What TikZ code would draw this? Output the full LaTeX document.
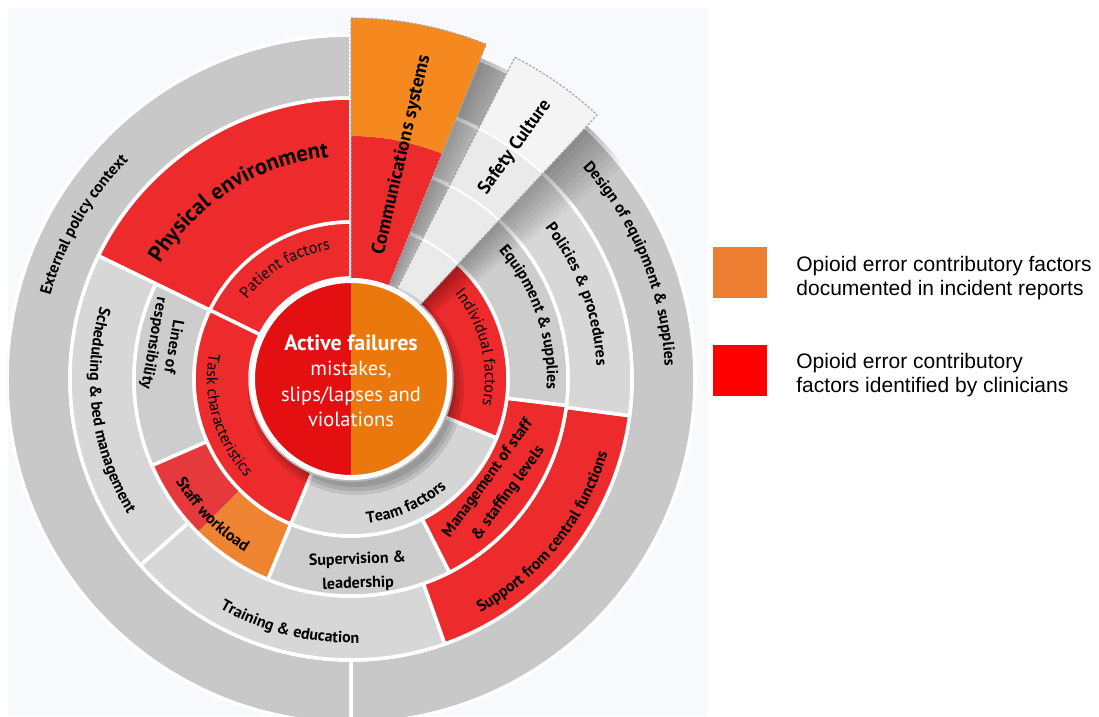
\documentclass[tikz,border=0pt]{standalone}
\usepackage{fontspec}
\setsansfont{PT Sans}
\newfontfamily\legendfont{Liberation Sans}
\usetikzlibrary{decorations.text,positioning}

\definecolor{paper}{HTML}{F8F9FC}
\definecolor{ringfive}{HTML}{C8C8C8}
\definecolor{ringfour}{HTML}{D7D7D7}
\definecolor{ringthree}{HTML}{CDCDCD}
\definecolor{ringtwo}{HTML}{D5D5D5}
\definecolor{segred}{HTML}{EE2B2C}
\definecolor{workred}{HTML}{E5393B}
\definecolor{workorange}{HTML}{EE8432}
\definecolor{commorange}{HTML}{F5891F}
\definecolor{corered}{HTML}{E30F10}
\definecolor{coreorange}{HTML}{EB780C}
\definecolor{safetygray}{HTML}{EAEAEA}
\definecolor{safetytop}{HTML}{F4F4F4}
\definecolor{keyorange}{HTML}{ED7D31}
\definecolor{keyred}{HTML}{FF0000}

\newcommand{\labfont}{\sffamily\bfseries\fontsize{16}{18}\selectfont}
\newcommand{\thinfont}{\sffamily\fontsize{16}{18}\selectfont}
\newcommand{\bigfont}{\sffamily\bfseries\fontsize{22.5}{24}\selectfont}

\begin{document}
\begin{tikzpicture}[x=1pt, y=1pt,
    seg/.style={draw=white, line width=3.5pt, line join=round},
    rlab/.style={align=center, inner sep=0pt},
    dashedge/.style={draw=gray!70, dash pattern=on 2.5pt off 1.5pt, line width=1.1pt},
    keybox/.style={minimum width=54pt, minimum height=51pt, inner sep=0pt},
    keytext/.style={font=\legendfont\fontsize{21}{24}\selectfont, align=left, inner sep=0pt}]
    \newcommand{\Sector}[5]{\path[#1] (#2:#4) arc[start angle=#2, end angle=#3, radius=#4] -- (#3:#5) arc[start angle=#3, end angle=#2, radius=#5] -- cycle;}
    \newcommand{\LabelOut}[4][\labfont]{%
        \pgfmathsetmacro{\aS}{#2+50}\pgfmathsetmacro{\aE}{#2-50}%
        \path[decorate, decoration={text along path, text align=center, text={|#1|#4}}] (\aS:#3) arc[start angle=\aS, end angle=\aE, radius=#3];}
    \newcommand{\LabelIn}[4][\labfont]{%
        \pgfmathsetmacro{\aS}{#2-50}\pgfmathsetmacro{\aE}{#2+50}%
        \path[decorate, decoration={text along path, text align=center, text={|#1|#4}}] (\aS:#3) arc[start angle=\aS, end angle=\aE, radius=#3];}

    \useasboundingbox (-351,-337) rectangle (748,379);
    \fill[paper] (-343,-337) rectangle (356,371);

    \begin{scope}
    \clip (-343,-337) rectangle (356,371);
    % outer ring
    \Sector{seg, fill=ringfive}{90}{270}{281}{344}
    \Sector{seg, fill=ringfive}{-90}{90}{281}{344}
    % ring 4
    \Sector{seg, fill=segred}{90}{154}{157}{281}
    \Sector{seg, fill=ringfour}{154}{221.5}{217}{281}
    \Sector{seg, fill=ringfour}{221.5}{289.5}{217}{281}
    \Sector{seg, fill=segred}{289.5}{352.5}{217}{281}
    \Sector{seg, fill=ringfour}{-7.5}{90}{217}{281}
    % ring 3
    \Sector{seg, fill=ringthree}{154}{203.5}{157}{217}
    \Sector{fill=workred}{203.5}{225}{157}{217}
    \Sector{fill=workorange}{225}{247.5}{157}{217}
    \Sector{seg}{203.5}{247.5}{157}{217}
    \Sector{seg, fill=ringthree}{247.5}{297}{157}{217}
    \Sector{seg, fill=segred}{297}{353}{157}{217}
    \Sector{seg, fill=ringthree}{-7}{90}{157}{217}
    % ring 2
    \Sector{seg, fill=segred}{90}{154}{101}{157}
    \Sector{seg, fill=segred}{154}{247.5}{101}{157}
    \Sector{seg, fill=ringtwo}{247.5}{338}{101}{157}
    \Sector{seg, fill=segred}{-22}{48}{101}{157}
    \Sector{seg, fill=ringtwo}{48}{90}{101}{157}

    % shadows of the raised sectors
    \foreach \a in {59,60,...,67} {\Sector{fill=black, fill opacity=0.035}{\a}{68}{101}{346}}
    \foreach \a in {38,39,...,46} {\Sector{fill=black, fill opacity=0.035}{\a}{47}{101}{346}}

    % communications systems
    \Sector{fill=segred}{68}{90}{101}{243}
    \Sector{fill=commorange}{68}{90}{243}{361}
    \draw[dashedge] (90:101) -- (90:361) arc[start angle=90, end angle=68, radius=361] -- (68:101);

    % safety culture
    \Sector{fill=safetygray}{47}{63}{101}{281}
    \Sector{fill=safetytop}{47}{63}{281}{361}
    \foreach \r in {157,217,281} {\draw[white, line width=2pt] (47:\r) arc[start angle=47, end angle=63, radius=\r];}
    \draw[dashedge] (63:101) -- (63:361) arc[start angle=63, end angle=47, radius=361] -- (47:101);

    % core
    \foreach \s in {100,104,108} {\fill[black, fill opacity=0.1] (5,-8) circle[radius=\s];}
    \fill[corered] (90:98) arc[start angle=90, end angle=270, radius=98] -- cycle;
    \fill[coreorange] (-90:98) arc[start angle=-90, end angle=90, radius=98] -- cycle;
    \draw[white, line width=5pt] (0,0) circle[radius=98.5];
    \node[text=white, align=center, font=\sffamily\fontsize{20.5}{25.5}\selectfont] (core) at (0,-2)
        {{\bfseries\fontsize{22}{25.5}\selectfont Active failures}\\mistakes,\\slips/lapses and\\violations};

    % curved labels
    \LabelOut{150}{312}{External policy context}
    \LabelOut{22.4}{314}{Design of equipment {\&} supplies}
    \LabelOut[\bigfont]{122.3}{223}{Physical environment}
    \LabelOut[\thinfont]{120.8}{131}{Patient factors}
    \LabelOut[\thinfont]{14}{134}{Individual factors}
    \LabelOut{19}{196}{Equipment {\&} supplies}
    \LabelOut{20.5}{246}{Policies {\&} procedures}
    \LabelIn{187.5}{261}{Scheduling {\&} bed management}
    \LabelIn[\thinfont]{196.5}{144}{Task characteristics}
    \LabelIn{224.4}{203}{Staff workload}
    \LabelIn{293.8}{145}{Team factors}
    \LabelIn{256}{264}{Training {\&} education}
    \LabelIn{-38.5}{267}{Support from central functions}

    % straight labels
    \node[rlab, rotate=-100, font=\sffamily\bfseries\fontsize{16}{20}\selectfont] (lines) at (169.7:191) {Lines of\\responsibility};
    \node[rlab, rotate=54, font=\sffamily\bfseries\fontsize{16}{25}\selectfont] (staffing) at (-36:182) {Management of staff\\\& staffing levels};
    \node[rlab, rotate=2, font=\sffamily\bfseries\fontsize{16}{24}\selectfont] (supervision) at (272:193) {Supervision \&\\leadership};
    \node[rlab, rotate=77, font=\sffamily\bfseries\fontsize{19}{20}\selectfont] (comms) at (77.2:230) {Communications systems};
    \node[rlab, rotate=54.5, font=\sffamily\bfseries\fontsize{18.5}{20}\selectfont] (safety) at (54.7:284) {Safety Culture};
    \end{scope}

    % key
    \node[keybox, fill=keyorange] (keydoc) at (389,106.5) {};
    \node[keytext, right=29pt of keydoc, yshift=-5.5pt] (keydoctext) {Opioid error contributory factors\\documented in incident reports};
    \node[keybox, fill=keyred] (keyclin) at (389,8.5) {};
    \node[keytext, right=29pt of keyclin, yshift=-4.5pt] (keyclintext) {Opioid error contributory\\factors identified by clinicians};
\end{tikzpicture}
\end{document}
